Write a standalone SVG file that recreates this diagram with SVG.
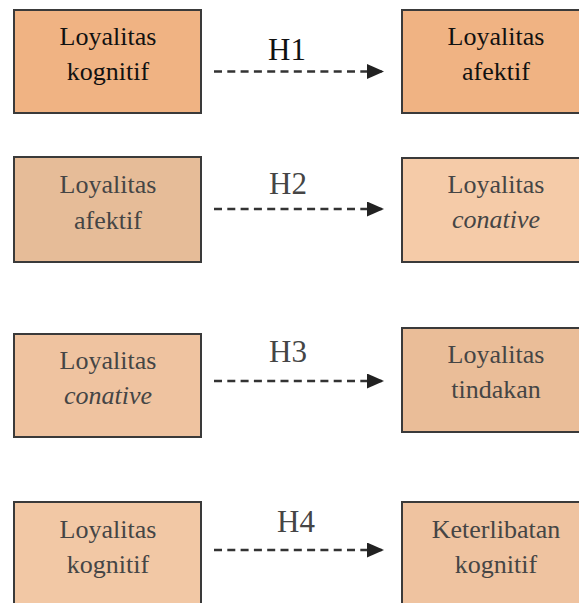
<svg xmlns="http://www.w3.org/2000/svg" width="579" height="603" viewBox="0 0 579 603">
<defs>
<style>
.box{stroke:#3a3a3a;stroke-width:2}
.t{font-size:26px;text-anchor:middle;fill:#454545}
.t1{fill:#111}
.h{font-size:31px;text-anchor:middle;fill:#454545}
.c{stroke:#333;stroke-width:2.6;stroke-dasharray:8 5.3;fill:none}
</style>
<marker id="ah" markerWidth="17" markerHeight="15" refX="16" refY="7.5" orient="auto" markerUnits="userSpaceOnUse">
<path d="M0,0 L17,7.5 L0,15 Z" fill="#222"/>
</marker>
</defs>
<rect width="579" height="603" fill="#fff"/>
<g font-family="Liberation Serif, Times New Roman, serif">
<g id="n1"><rect class="box" x="14" y="10" width="187" height="103" fill="#F0B383"/>
<text class="t t1" x="108" y="45">Loyalitas</text><text class="t t1" x="108" y="80">kognitif</text></g>
<g id="n2"><rect class="box" x="402" y="10" width="188" height="103" fill="#F0B383"/>
<text class="t t1" x="496" y="45">Loyalitas</text><text class="t t1" x="496" y="80">afektif</text></g>
<g id="n3"><rect class="box" x="14" y="157" width="187" height="105" fill="#E6BC98"/>
<text class="t" x="108" y="193">Loyalitas</text><text class="t" x="108" y="229">afektif</text></g>
<g id="n4"><rect class="box" x="402" y="158" width="188" height="104" fill="#F5CBA8"/>
<text class="t" x="496" y="193">Loyalitas</text><text class="t" x="496" y="228" font-style="italic">conative</text></g>
<g id="n5"><rect class="box" x="14" y="334" width="187" height="103" fill="#EFC3A0"/>
<text class="t" x="108" y="369">Loyalitas</text><text class="t" x="108" y="404" font-style="italic">conative</text></g>
<g id="n6"><rect class="box" x="402" y="328" width="188" height="104" fill="#EABD98"/>
<text class="t" x="496" y="363">Loyalitas</text><text class="t" x="496" y="398">tindakan</text></g>
<g id="n7"><rect class="box" x="14" y="502" width="187" height="110" fill="#F2C8A5"/>
<text class="t" x="108" y="538">Loyalitas</text><text class="t" x="108" y="573">kognitif</text></g>
<g id="n8"><rect class="box" x="402" y="502" width="188" height="110" fill="#EFC3A0"/>
<text class="t" x="496" y="538">Keterlibatan</text><text class="t" x="496" y="573">kognitif</text></g>
<g id="connectors">
<line class="c" x1="214" y1="71.5" x2="383" y2="71.5" marker-end="url(#ah)"/>
<line class="c" x1="214" y1="209" x2="383" y2="209" marker-end="url(#ah)"/>
<line class="c" x1="214" y1="381" x2="383" y2="381" marker-end="url(#ah)"/>
<line class="c" x1="214" y1="550" x2="383" y2="550" marker-end="url(#ah)"/>
<text class="h" x="287" y="60" style="fill:#111">H1</text>
<text class="h" x="288" y="194">H2</text>
<text class="h" x="288" y="362">H3</text>
<text class="h" x="296" y="532">H4</text>
</g>
</g>
</svg>
